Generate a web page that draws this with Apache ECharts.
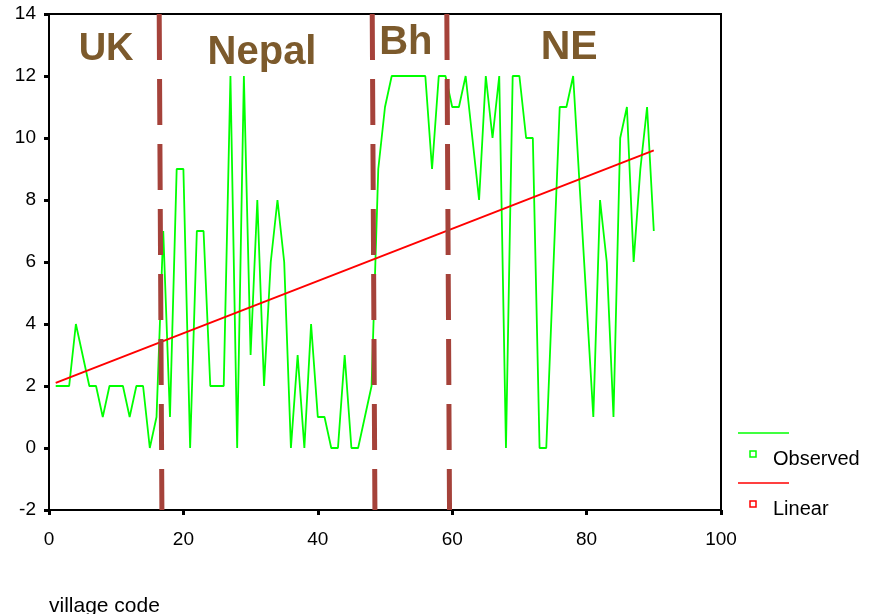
<!DOCTYPE html>
<html>
<head>
<meta charset="utf-8">
<script src="https://cdn.jsdelivr.net/npm/echarts@6/dist/echarts.min.js"></script>
<style>
	html, body { margin: 0; padding: 0; background: #fff; }
	#main-echarts { width: 869px; height: 614px; }
</style>
</head>
<body>
<div id="main-echarts"></div>
<script>
// village code (x) and observed value
var villageCode = [1,2,3,4,5,6,7,8,9,10,11,12,13,14,15,16,17,18,19,20,
	21,22,23,24,25,26,27,28,29,30,31,32,33,34,35,36,37,38,39,40,
	41,42,43,44,45,46,47,48,49,50,51,52,53,54,55,56,57,58,59,60,
	61,62,63,64,65,66,67,68,69,70,71,72,73,74,76,77,78,81,82,83,
	84,85,86,87,88,89,90];
var observed = [2,2,2,4,3,2,2,1,2,2,2,1,2,2,0,1,7,1,9,9,
	0,7,7,2,2,2,12,0,12,3,8,2,6,8,6,0,3,0,4,1,
	1,0,0,3,0,0,1,2,9,11,12,12,12,12,12,12,9,12,12,11,
	11,12,10,8,12,10,12,0,12,12,10,10,0,0,11,11,12,1,8,6,
	1,10,11,6,9,11,7];
// linear fit end points
var linearX = [1, 90];
var linearY = [2.1, 9.6];
// dashed region dividers (top x / bottom x)
var dividerTopX = [16.4, 48.1, 59.2];
var dividerBottomX = [16.8, 48.5, 59.6];
// region names and where they sit
var regionNames = ['UK', 'Nepal', 'Bh', 'NE'];
var regionX = [8.5, 31.7, 53.1, 77.4];
var regionY = [12.85, 12.75, 13.05, 12.9];
var regionFontSize = [38, 40, 40, 41];

var xTicks = { min: 0, max: 100, interval: 20 };
var yTicks = { min: -2, max: 14, interval: 2 };

var myChart = echarts.init(document.getElementById('main-echarts'));

var obsData = [];
for (var i = 0; i < villageCode.length; i++) {
	obsData.push([villageCode[i], observed[i]]);
}
var linData = [];
for (var j = 0; j < linearX.length; j++) {
	linData.push([linearX[j], linearY[j]]);
}

var series = [
	{
		name: 'Observed',
		type: 'line',
		data: obsData,
		symbol: 'none',
		lineStyle: { color: '#00ff00', width: 1.8 },
		z: 2
	},
	{
		name: 'Linear',
		type: 'line',
		data: linData,
		symbol: 'none',
		lineStyle: { color: '#ff0000', width: 2 },
		z: 3
	}
];
// 分隔线
for (var k = 0; k < dividerTopX.length; k++) {
	series.push({
		type: 'line',
		data: [[dividerTopX[k], yTicks.max], [dividerBottomX[k], yTicks.min]],
		symbol: 'none',
		silent: true,
		lineStyle: { color: '#a5423a', width: 5, type: [46, 19], cap: 'butt' },
		z: 4
	});
}
var font = 'Liberation Sans, Arial, sans-serif';
// region labels
var regionData = [];
for (var r = 0; r < regionNames.length; r++) {
	regionData.push({
		name: regionNames[r],
		value: [regionX[r], regionY[r]],
		label: { fontSize: regionFontSize[r] }
	});
}
series.push({
	type: 'scatter',
	data: regionData,
	symbolSize: 0,
	silent: true,
	itemStyle: { opacity: 1 },
	label: {
		show: true,
		position: 'inside',
		formatter: '{b}',
		color: '#7c5a2c',
		fontFamily: font,
		fontWeight: 'bold',
		fontSize: 38
	},
	z: 5
});

var option = {
	animation: false,
	backgroundColor: '#fff',
	title: {
		text: 'village code',
		left: 44,
		top: 591,
		textStyle: { fontFamily: font, fontWeight: 'normal', fontSize: 21, color: '#000' }
	},
	grid: {
		left: 49, top: 14, right: 148, bottom: 104,
		show: true, borderColor: '#000', borderWidth: 2, backgroundColor: 'transparent'
	},
	xAxis: {
		type: 'value',
		min: xTicks.min, max: xTicks.max, interval: xTicks.interval,
		axisLine: { onZero: false, lineStyle: { color: '#000', width: 2 } },
		axisTick: { show: true, length: 5, lineStyle: { color: '#000', width: 3 } },
		axisLabel: { color: '#000', fontFamily: font, fontSize: 19, margin: 20 },
		splitLine: { show: false }
	},
	yAxis: {
		type: 'value',
		min: yTicks.min, max: yTicks.max, interval: yTicks.interval,
		axisLine: { show: true, onZero: false, lineStyle: { color: '#000', width: 2 } },
		axisTick: { show: true, length: 5, lineStyle: { color: '#000', width: 3 } },
		axisLabel: { color: '#000', fontFamily: font, fontSize: 19, margin: 13 },
		splitLine: { show: false }
	},
	graphic: [
		{ type: 'line', shape: { x1: 738, y1: 433, x2: 789, y2: 433 }, style: { stroke: '#00ff00', lineWidth: 1.5 } },
		{ type: 'rect', shape: { x: 750, y: 451, width: 6, height: 6 }, style: { fill: 'none', stroke: '#00ff00', lineWidth: 1.5 } },
		{ type: 'text', left: 773, top: 449, style: { text: 'Observed', font: '20px ' + font, fill: '#000' } },
		{ type: 'line', shape: { x1: 738, y1: 483, x2: 789, y2: 483 }, style: { stroke: '#ff0000', lineWidth: 1.5 } },
		{ type: 'rect', shape: { x: 750, y: 501, width: 6, height: 6 }, style: { fill: 'none', stroke: '#ff0000', lineWidth: 1.5 } },
		{ type: 'text', left: 773, top: 499, style: { text: 'Linear', font: '20px ' + font, fill: '#000' } }
	],
	series: series
};
myChart.setOption(option);
</script>
</body>
</html>
